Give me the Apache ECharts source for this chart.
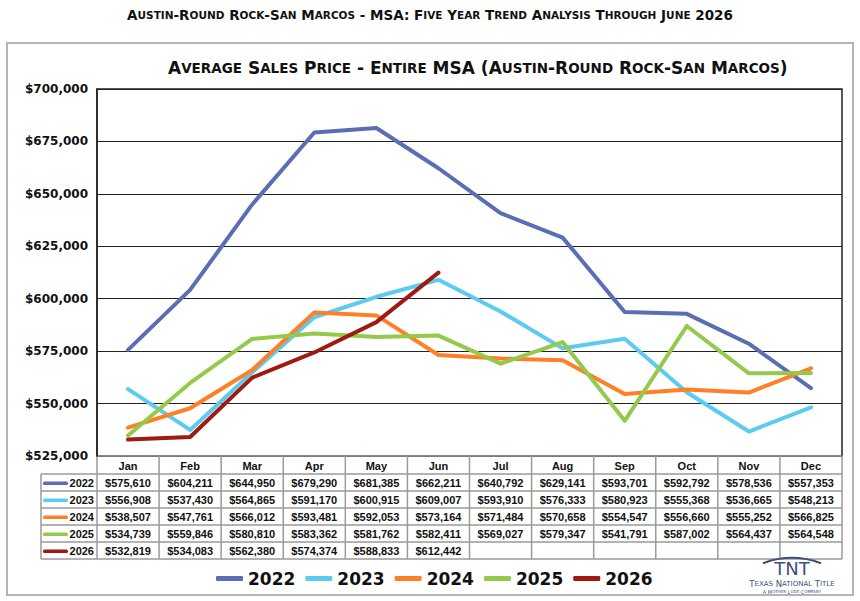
<!DOCTYPE html>
<html>
<head>
<meta charset="utf-8">
<script src="https://cdn.jsdelivr.net/npm/echarts@6/dist/echarts.min.js"></script>
<style>
  html, body { margin: 0; padding: 0; background: #fff; }
  #chart { width: 860px; height: 601px; }
</style>
</head>
<body>
<div id="chart"></div>
<script>
// data
const months = ['Jan', 'Feb', 'Mar', 'Apr', 'May', 'Jun', 'Jul', 'Aug', 'Sep', 'Oct', 'Nov', 'Dec'];
const years = ['2022', '2023', '2024', '2025', '2026'];
const v2022 = [575610, 604211, 644950, 679290, 681385, 662211, 640792, 629141, 593701, 592792, 578536, 557353];
const v2023 = [556908, 537430, 564865, 591170, 600915, 609007, 593910, 576333, 580923, 555368, 536665, 548213];
const v2024 = [538507, 547761, 566012, 593481, 592053, 573164, 571484, 570658, 554547, 556660, 555252, 566825];
const v2025 = [534739, 559846, 580810, 583362, 581762, 582411, 569027, 579347, 541791, 587002, 564437, 564548];
const v2026 = [532819, 534083, 562380, 574374, 588833, 612442];
const colors = ['#5b6db3', '#5ccbf2', '#ff7f27', '#94c94b', '#9e1b12'];
const yMin = 525000, yMax = 700000, yStep = 25000;

const seriesValues = [v2022, v2023, v2024, v2025, v2026];
const money = v => '$' + v.toLocaleString('en-US');

// turn "Average Sales" into small caps rich text
function smallCaps(str) {
  let out = '', run = '', kind = null;
  const flush = () => { if (run) out += '{' + kind + '|' + run + '}'; run = ''; };
  for (const ch of str) {
    const k = (ch >= 'a' && ch <= 'z') ? 's' : 'b';
    if (k !== kind) { flush(); kind = k; }
    run += ch.toUpperCase();
  }
  flush();
  return out;
}

const chart = echarts.init(document.getElementById('chart'), null, { renderer: 'svg' });
const titleFont = 'DejaVu Sans';
const logoColor = '#3d4f80';

const option = {
  backgroundColor: '#fff',
  animation: false,
  title: [
    {
      text: smallCaps('Austin-Round Rock-San Marcos - MSA: Five Year Trend Analysis Through June 2026'),
      left: 'center', top: 3,
      textStyle: {
        rich: {
          b: { fontFamily: titleFont, fontWeight: 'bold', fontSize: 13.5, color: '#111' },
          s: { fontFamily: titleFont, fontWeight: 'bold', fontSize: 10.5, color: '#111' }
        }
      }
    },
    {
      text: smallCaps('Average Sales Price - Entire MSA (Austin-Round Rock-San Marcos)'),
      left: 163, top: 54,
      textStyle: {
        rich: {
          b: { fontFamily: titleFont, fontWeight: 'bold', fontSize: 17, color: '#111' },
          s: { fontFamily: titleFont, fontWeight: 'bold', fontSize: 13.5, color: '#111' }
        }
      }
    }
  ],
  legend: {
    data: years,
    left: 211, top: 565,
    icon: 'roundRect', itemWidth: 27, itemHeight: 5, itemGap: 10,
    textStyle: { fontFamily: 'DejaVu Sans', fontWeight: 'bold', fontSize: 17, color: '#111' }
  },
  grid: {
    left: 97, right: 18, top: 89, bottom: 145,
    show: true, borderColor: '#222', borderWidth: 1.5
  },
  xAxis: {
    type: 'category', data: months, boundaryGap: true,
    axisLine: { show: false }, axisTick: { show: false }, axisLabel: { show: false }
  },
  yAxis: {
    type: 'value', min: yMin, max: yMax, interval: yStep,
    axisLine: { show: true, lineStyle: { color: '#222', width: 1.5 } },
    axisTick: { show: false },
    axisLabel: {
      formatter: v => money(v), margin: 9,
      fontFamily: 'DejaVu Sans', fontWeight: 'bold', fontSize: 12, color: '#111'
    },
    splitLine: { lineStyle: { color: '#222', width: 1 } }
  },
  series: years.map((y, i) => ({
    name: y, type: 'line', data: seriesValues[i],
    showSymbol: false, symbol: 'none',
    lineStyle: { width: 4, color: colors[i], cap: 'round', join: 'round' },
    itemStyle: { color: colors[i] }
  }))
};
chart.setOption(option);

// data table under the plot, columns follow the category axis
const g = [];
const band = chart.convertToPixel({ xAxisIndex: 0 }, 1) - chart.convertToPixel({ xAxisIndex: 0 }, 0);
const tableLeft = chart.convertToPixel({ xAxisIndex: 0 }, 0) - band / 2;
const tableRight = tableLeft + band * months.length;
const labelLeft = 41;
const headTop = chart.convertToPixel({ yAxisIndex: 0 }, yMin);
const headH = 18, rowH = 17;
const bodyTop = headTop + headH;
const tableBottom = bodyTop + rowH * years.length;
const gridColor = '#9a9a9a';
const cellFont = 'bold 11px "Liberation Sans"';

g.push({ type: 'rect', shape: { x: 7, y: 43, width: 846, height: 552 },
  style: { fill: 'none', stroke: '#b5b5b5', lineWidth: 2 }, z: -1 });

// horizontal lines
g.push({ type: 'line', shape: { x1: tableLeft, y1: headTop, x2: tableRight, y2: headTop }, style: { stroke: gridColor, lineWidth: 1.5 } });
for (let r = 0; r <= years.length; r++) {
  const y = bodyTop + r * rowH;
  g.push({ type: 'line', shape: { x1: labelLeft, y1: y, x2: tableRight, y2: y }, style: { stroke: gridColor, lineWidth: 1.5 } });
}
// vertical lines
g.push({ type: 'line', shape: { x1: labelLeft, y1: bodyTop, x2: labelLeft, y2: tableBottom }, style: { stroke: gridColor, lineWidth: 1.5 } });
for (let c = 0; c <= months.length; c++) {
  const x = tableLeft + c * band;
  g.push({ type: 'line', shape: { x1: x, y1: headTop, x2: x, y2: tableBottom }, style: { stroke: gridColor, lineWidth: 1.5 } });
}
// header
months.forEach((m, c) => {
  g.push({ type: 'text', style: { text: m, x: tableLeft + (c + 0.5) * band, y: headTop + headH / 2 + 1,
    textAlign: 'center', textVerticalAlign: 'middle', font: cellFont, fill: '#111' } });
});
// rows
years.forEach((y, r) => {
  const cy = bodyTop + (r + 0.5) * rowH + 0.5;
  g.push({ type: 'rect', shape: { x: 43, y: cy - 1.5, width: 25, height: 3.5, r: 1.5 }, style: { fill: colors[r] } });
  g.push({ type: 'text', style: { text: y, x: 94, y: cy, textAlign: 'right', textVerticalAlign: 'middle', font: cellFont, fill: '#111' } });
  seriesValues[r].forEach((v, c) => {
    g.push({ type: 'text', style: { text: money(v), x: tableLeft + (c + 0.5) * band, y: cy,
      textAlign: 'center', textVerticalAlign: 'middle', font: cellFont, fill: '#111' } });
  });
});

// TNT logo
g.push({ type: 'arc', shape: { cx: 792, cy: 640, r: 82, startAngle: -Math.PI * 0.615, endAngle: -Math.PI * 0.385 },
  style: { stroke: logoColor, lineWidth: 2, fill: 'none' } });
g.push({ type: 'text', style: { text: 'TNT', x: 792, y: 568, textAlign: 'center', textVerticalAlign: 'middle',
  font: '18px "DejaVu Sans"', fill: logoColor } });
g.push({ type: 'text', style: { x: 792, y: 583.5, textAlign: 'center', textVerticalAlign: 'middle',
  text: smallCaps('Texas National Title'),
  rich: {
    b: { fontFamily: 'DejaVu Sans', fontSize: 8.5, fill: logoColor },
    s: { fontFamily: 'DejaVu Sans', fontSize: 7, fill: logoColor }
  } } });
g.push({ type: 'text', style: { x: 792, y: 591.5, textAlign: 'center', textVerticalAlign: 'middle',
  text: smallCaps('A Mother Lode Company'),
  rich: {
    b: { fontFamily: 'DejaVu Sans', fontSize: 5, fill: logoColor },
    s: { fontFamily: 'DejaVu Sans', fontSize: 4, fill: logoColor }
  } } });

chart.setOption({ graphic: g });
</script>
</body>
</html>
